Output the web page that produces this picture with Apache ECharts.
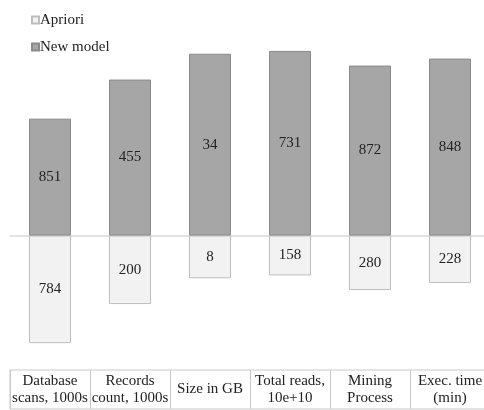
<!DOCTYPE html>
<html>
<head>
<meta charset="utf-8">
<script src="https://cdn.jsdelivr.net/npm/echarts@6/dist/echarts.min.js"></script>
<style>
  html, body { margin: 0; padding: 0; background: #fff; overflow: hidden; }
  #chart { width: 491px; height: 410px; }
</style>
</head>
<body>
<div id="chart"></div>
<script>
// Metrics compared between the two approaches
const categories = [
  'Database\nscans, 1000s',
  'Records\ncount, 1000s',
  'Size in GB',
  'Total reads,\n10e+10',
  'Mining\nProcess',
  'Exec. time\n(min)'
];
const aprioriValues = [784, 200, 8, 158, 280, 228];
const newModelValues = [851, 455, 34, 731, 872, 848];

// Each column is split by share: New model above the baseline, Apriori below
const totals = categories.map((_, i) => aprioriValues[i] + newModelValues[i]);
const newModelShare = newModelValues.map((v, i) => v / totals[i]);
const aprioriShare = aprioriValues.map((v, i) => -v / totals[i]);

const FONT = "'Liberation Serif', 'Times New Roman', serif";
const TEXT = '#222';

const chart = echarts.init(document.getElementById('chart'));
chart.setOption({
  animation: false,
  backgroundColor: '#fff',
  textStyle: { fontFamily: FONT },
  legend: {
    orient: 'vertical',
    left: 26,
    top: 7,
    itemWidth: 7,
    itemHeight: 7,
    itemGap: 11,
    icon: 'rect',
    data: ['Apriori', 'New model'],
    textStyle: {
      fontFamily: FONT, fontSize: 15, color: TEXT,
      lineHeight: 16, padding: [0, 0, 0, -4]
    }
  },
  grid: [
    { left: 10, width: 480, top: 11, height: 359.2 },
    { left: 10, width: 480, top: 370, height: 39, show: true,
      borderColor: '#c8c8c8', borderWidth: 1 }
  ],
  xAxis: [
    {
      type: 'category', gridIndex: 0, data: categories,
      axisLine: { onZero: true, lineStyle: { color: '#d9d9d9', width: 1.5 } },
      axisTick: { show: false },
      axisLabel: { show: false }
    },
    {
      type: 'category', gridIndex: 1, data: categories,
      axisLine: { show: false },
      axisTick: { show: false },
      splitLine: { show: true, interval: 0, lineStyle: { color: '#c8c8c8', width: 1 } },
      axisLabel: {
        interval: 0, inside: true, margin: 19.5, verticalAlign: 'middle',
        fontFamily: FONT, fontSize: 15, lineHeight: 17, color: TEXT
      }
    }
  ],
  yAxis: [
    { type: 'value', gridIndex: 0, min: -0.6, max: 1, show: false },
    { type: 'value', gridIndex: 1, min: 0, max: 1, show: false }
  ],
  series: [
    {
      name: 'Apriori', type: 'bar', stack: 'share',
      xAxisIndex: 0, yAxisIndex: 0,
      barWidth: 42,
      data: aprioriShare,
      itemStyle: { color: '#f2f2f2', borderColor: '#bdbdbd', borderWidth: 1 },
      label: {
        show: true, position: 'inside', fontFamily: FONT, fontSize: 15, color: TEXT,
        formatter: p => String(aprioriValues[p.dataIndex])
      }
    },
    {
      name: 'New model', type: 'bar', stack: 'share',
      xAxisIndex: 0, yAxisIndex: 0,
      barWidth: 42,
      data: newModelShare,
      itemStyle: { color: '#a6a6a6', borderColor: '#8a8a8a', borderWidth: 1 },
      label: {
        show: true, position: 'inside', fontFamily: FONT, fontSize: 15, color: TEXT,
        formatter: p => String(newModelValues[p.dataIndex])
      }
    }
  ]
});
</script>
</body>
</html>
